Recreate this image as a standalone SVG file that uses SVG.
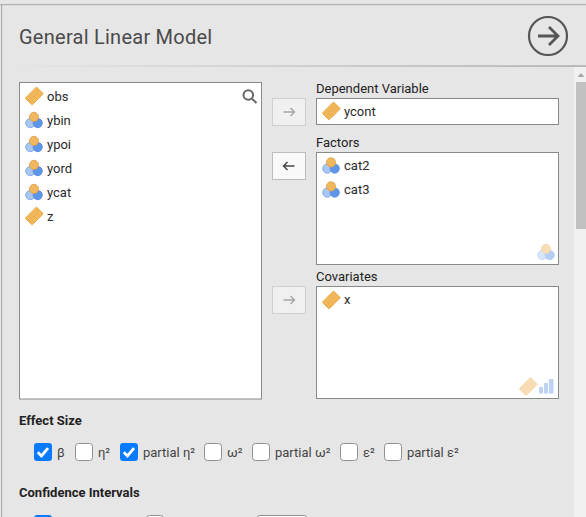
<svg xmlns="http://www.w3.org/2000/svg" width="586" height="517" viewBox="0 0 586 517">
<style>
text{font-family:Roboto,"Liberation Sans",sans-serif;font-size:13px;fill:#2a2a2a}
.title{font-size:20px;letter-spacing:.25px;fill:#4a4a4a}
.box{fill:#fff;stroke:#8a8a8a;stroke-width:1}
.lab{fill:#222}
.btn{fill:#f9f9f9;stroke:#bdbdbd;stroke-width:1}
.off{fill:#f0f0f0;stroke:#cfcfcf;stroke-width:1}
.cb{fill:#fff;stroke:#8f8f8f;stroke-width:1}
.cbon{fill:#0a7bff}
.h{font-weight:700;fill:#222;font-size:13px}
.opt{fill:#444}
</style>
<defs>
<linearGradient id="sep" x1="0" x2="1" y1="0" y2="0"><stop offset="0" stop-color="#e6e6e6"/><stop offset="0.5" stop-color="#cdcdcd"/><stop offset="1" stop-color="#b4b4b4"/></linearGradient>
<g id="ruler"><rect x="-4.800" y="-8" width="9.600" height="16" rx="0.600" transform="rotate(45)" fill="#f1b65a" stroke="#e6a53f" stroke-width="0.800"/><path d="M-3.200 2.200 l1.300 1.300 M-0.800-0.200 l1.300 1.300 M1.600-2.600 l1.300 1.300 M-5.600 4.600 l1.300 1.300" stroke="#dc9c3e" stroke-width="0.700" fill="none"/></g>
<g id="nominal"><circle cx="-3.700" cy="3.100" r="4.600" fill="#a9c7f2" stroke="#6f9fe6" stroke-width="0.800"/><circle cx="3.700" cy="3.100" r="4.600" fill="#5d95e8" stroke="#4d87df" stroke-width="0.800"/><circle cx="0" cy="-3.100" r="4.600" fill="#efb75e" stroke="#dca044" stroke-width="0.800"/></g>
<path id="arrowR" d="M-5.500 0 H5.500 M1.500-4 L5.500 0 L1.500 4" fill="none" stroke-width="1.400"/>
<path id="tick" d="M-5.200 0.200 L-1.500 3.900 L5-3.800" fill="none" stroke="#fff" stroke-width="2.800"/>
</defs>
<rect width="586" height="517" fill="#e6e6e6"/>
<rect x="0" y="4" width="586" height="1.200" fill="#b0b0b0"/>
<rect x="1" y="4" width="1.200" height="513" fill="#b0b0b0"/>
<rect x="8" y="65.200" width="578" height="1.800" fill="url(#sep)"/>
<g id="scrollbar"><rect x="574" y="67" width="12" height="450" fill="#f1f1f1"/><path d="M577.500 77 L581 73 L584.500 77 Z" fill="#a8a8a8"/><rect x="576" y="82" width="10" height="147" fill="#c1c1c1"/></g>
<g id="header"><text class="title" x="19" y="43.500">General Linear Model</text></g>
<g id="run-button"><circle cx="548" cy="36" r="19" fill="none" stroke="#555" stroke-width="2.200"/><path d="M538 36 H557.500 M549 27 L558 36 L549 45" fill="none" stroke="#555" stroke-width="2.800"/></g>

<g id="source-list">
<rect class="box" x="19.500" y="82.500" width="242" height="316.500"/>
<g fill="none" stroke="#666" stroke-width="2"><circle cx="248.300" cy="95" r="4.800"/><path d="M252 98.700 L256.500 103"/></g>
<g id="var-obs"><use href="#ruler" x="34.300" y="96"/><text x="47" y="101">obs</text></g>
<g id="var-ybin"><use href="#nominal" x="34" y="120"/><text x="47" y="125">ybin</text></g>
<g id="var-ypoi"><use href="#nominal" x="34" y="144"/><text x="47" y="149">ypoi</text></g>
<g id="var-yord"><use href="#nominal" x="34" y="168"/><text x="47" y="173">yord</text></g>
<g id="var-ycat"><use href="#nominal" x="34" y="192"/><text x="47" y="197">ycat</text></g>
<g id="var-z"><use href="#ruler" x="34.300" y="216"/><text x="47" y="221">z</text></g>
</g>

<g id="btn-dep"><rect class="off" x="272.500" y="98.500" width="33" height="27"/><use href="#arrowR" x="289" y="112" stroke="#a5a5a5"/></g>
<g id="btn-factors"><rect class="btn" x="272.500" y="152.500" width="33" height="27"/><use href="#arrowR" transform="translate(289,166) rotate(180)" stroke="#444"/></g>
<g id="btn-cov"><rect class="off" x="272.500" y="286.500" width="33" height="27"/><use href="#arrowR" x="289" y="300" stroke="#a5a5a5"/></g>

<g id="dep-var">
<text class="lab" x="316" y="93">Dependent Variable</text>
<rect class="box" x="316.500" y="98.500" width="242" height="26"/>
<use href="#ruler" x="331.300" y="111"/><text x="344" y="116">ycont</text>
</g>
<g id="factors">
<text class="lab" x="316" y="147">Factors</text>
<rect class="box" x="316.500" y="152.500" width="242" height="112"/>
<use href="#nominal" x="331" y="165.500"/><text x="344" y="170">cat2</text>
<use href="#nominal" x="331" y="189.500"/><text x="344" y="194">cat3</text>
<use href="#nominal" x="546" y="252" opacity="0.450"/>
</g>
<g id="covariates">
<text class="lab" x="316" y="281">Covariates</text>
<rect class="box" x="316.500" y="286.500" width="242" height="112"/>
<use href="#ruler" x="331.300" y="300"/><text x="344" y="304">x</text>
<use href="#ruler" x="528.300" y="386.500" opacity="0.450"/>
<path d="M539 387 h4 v6.500 h-4 z M544 383 h4 v10.500 h-4 z M549 379 h4.500 v14.500 h-4.500 z" fill="#bcd3f5"/>
</g>

<g id="effect-size">
<text class="h" x="19" y="425">Effect Size</text>
<g id="opt-beta"><rect class="cbon" x="34" y="443" width="18" height="18" rx="3"/><use href="#tick" x="43" y="452"/><text class="opt" x="57" y="456.500">β</text></g>
<g id="opt-eta"><rect class="cb" x="75.500" y="443.500" width="17" height="17" rx="3"/><text class="opt" x="98" y="456.500">η²</text></g>
<g id="opt-peta"><rect class="cbon" x="120" y="443" width="18" height="18" rx="3"/><use href="#tick" x="129" y="452"/><text class="opt" x="143" y="456.500">partial η²</text></g>
<g id="opt-omega"><rect class="cb" x="204.500" y="443.500" width="17" height="17" rx="3"/><text class="opt" x="227" y="456.500">ω²</text></g>
<g id="opt-pomega"><rect class="cb" x="252.500" y="443.500" width="17" height="17" rx="3"/><text class="opt" x="275" y="456.500">partial ω²</text></g>
<g id="opt-eps"><rect class="cb" x="340.500" y="443.500" width="17" height="17" rx="3"/><text class="opt" x="363" y="456.500">ε²</text></g>
<g id="opt-peps"><rect class="cb" x="384.500" y="443.500" width="17" height="17" rx="3"/><text class="opt" x="407" y="456.500">partial ε²</text></g>
</g>

<g id="confidence">
<text class="h" x="19" y="497">Confidence Intervals</text>
<rect class="cbon" x="34" y="515" width="18" height="18" rx="3"/>
<rect class="cb" x="146.500" y="515.500" width="17" height="17" rx="3"/>
<rect class="cb" x="257.500" y="515.500" width="49" height="17" rx="2"/>
</g>
</svg>
